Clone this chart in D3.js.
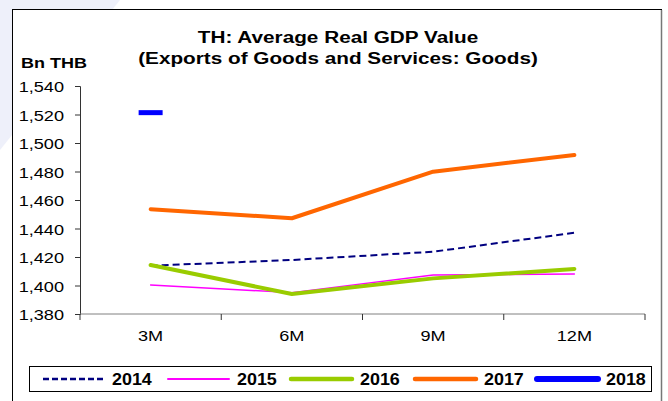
<!DOCTYPE html>
<html><head><meta charset="utf-8">
<script src="https://cdn.jsdelivr.net/npm/d3@7"></script>
<style>body{margin:0;background:#fff;}svg{display:block;font-family:"Liberation Sans",Arial,sans-serif;}</style>
</head><body>
<svg id="c" width="668" height="401"></svg>
<script>
const categories = ["3M","6M","9M","12M"];
const years = ["2014","2015","2016","2017","2018"];
const v2014 = [1413.9, 1417.9, 1423.7, 1437.0];
const v2015 = [1400.4, 1395.0, 1407.4, 1408.0];
const v2016 = [1414.4, 1394.0, 1405.0, 1411.6];
const v2017 = [1453.5, 1447.2, 1479.9, 1491.6];
const v2018 = [1521.3, null, null, null];
const yTicks = [1380,1400,1420,1440,1460,1480,1500,1520,1540];

const styles = {
  "2014": {color:"#000080", width:2, dash:"7,4", legDash:"6,3", legW:2.5},
  "2015": {color:"#FF00FF", width:1.5, dash:null, legW:2},
  "2016": {color:"#99CC00", width:4, dash:null, legW:4.5},
  "2017": {color:"#FF6600", width:4, dash:null, legW:4.5},
  "2018": {color:"#0000FF", width:5, dash:null, legW:6}
};
const seriesVals = {"2014":v2014,"2015":v2015,"2016":v2016,"2017":v2017,"2018":v2018};

const svg = d3.select("#c");
// helper: horizontally stretched text
function stext(g, x, y, str, size, sx, anchor, bold) {
  return g.append("text").attr("transform",`translate(${x},${y}) scale(${sx},1)`)
    .attr("text-anchor",anchor).attr("font-size",size)
    .attr("font-weight",bold?"bold":"normal").attr("fill","#000").text(str);
}

// background decoration
svg.append("path").attr("d","M0,0 L120,0 L0,150 Z").attr("fill","#eef0fa");
svg.append("rect").attr("x",12.5).attr("y",9.5).attr("width",649).attr("height",400)
  .attr("fill","#fff").attr("stroke","#000").attr("stroke-width",1);
svg.append("line").attr("x1",661.5).attr("x2",661.5).attr("y1",10).attr("y2",401).attr("stroke","#777").attr("stroke-width",1.5);

const x = d3.scaleBand().domain(categories).range([80,645]).padding(0);
const y = d3.scaleLinear().domain([1380,1540]).range([314,86]);

// title
stext(svg, 338, 43, "TH: Average Real GDP Value", 17, 1.22, "middle", true);
stext(svg, 338, 64, "(Exports of Goods and Services: Goods)", 17, 1.22, "middle", true);
stext(svg, 21, 68, "Bn THB", 15, 1.2, "start", true);

// axes
const yAxis = d3.axisLeft(y).tickValues(yTicks).tickSize(5).tickFormat(d3.format(","));
const gy = svg.append("g").attr("transform","translate(80,0)").call(yAxis);
gy.selectAll("text").remove();
gy.select(".domain").attr("stroke","#333");
gy.selectAll(".tick line").attr("stroke","#333");
gy.selectAll(".tick").each(function(d){
  stext(d3.select(this), -16, 5.5, d3.format(",")(d), 14.5, 1.25, "end", false);
});

const xAxis = d3.axisBottom(x).tickSize(0);
const gx = svg.append("g").attr("transform","translate(0,314)").call(xAxis);
gx.select(".domain").attr("stroke","#808080").attr("d","M80,0H645");
gx.selectAll("text").remove();
gx.selectAll(".tick").each(function(d){
  stext(d3.select(this), 0, 27, d, 14.5, 1.25, "middle", false);
});
// category boundary ticks
const bounds = categories.map(c=>x(c)).concat([x(categories[3])+x.bandwidth()]);
svg.append("g").selectAll("line").data(bounds).join("line")
  .attr("x1",d=>d).attr("x2",d=>d).attr("y1",314).attr("y2",320).attr("stroke","#333");

const cx = c => x(c) + x.bandwidth()/2;
const line = d3.line().defined(d=>d.v!=null).x(d=>cx(d.c)).y(d=>y(d.v));

years.forEach(yr=>{
  const s = styles[yr];
  const pts = categories.map((c,i)=>({c, v:seriesVals[yr][i]}));
  const valid = pts.filter(p=>p.v!=null);
  if (valid.length>1) {
    svg.append("path").datum(pts).attr("d",line).attr("fill","none")
      .attr("stroke",s.color).attr("stroke-width",s.width)
      .attr("stroke-dasharray",s.dash).attr("stroke-linejoin","round")
      .attr("stroke-linecap", s.dash?"butt":"round");
  } else {
    valid.forEach(p=>{
      svg.append("line").attr("x1",cx(p.c)-12).attr("x2",cx(p.c)+12)
        .attr("y1",y(p.v)).attr("y2",y(p.v)).attr("stroke",s.color).attr("stroke-width",s.width);
    });
  }
});

// legend
svg.append("rect").attr("x",29.5).attr("y",366.5).attr("width",622).attr("height",25)
  .attr("fill","#fff").attr("stroke","#000");
const legX = [43,168,291,415,537];
years.forEach((yr,i)=>{
  const s = styles[yr];
  svg.append("line").attr("x1",legX[i]).attr("x2",legX[i]+61).attr("y1",379).attr("y2",379)
    .attr("stroke",s.color).attr("stroke-width",s.legW).attr("stroke-dasharray",s.legDash||null)
    .attr("stroke-linecap", s.legDash?"butt":"round");
  stext(svg, legX[i]+69, 385, yr, 16, 1.12, "start", true);
});
</script>
</body></html>
